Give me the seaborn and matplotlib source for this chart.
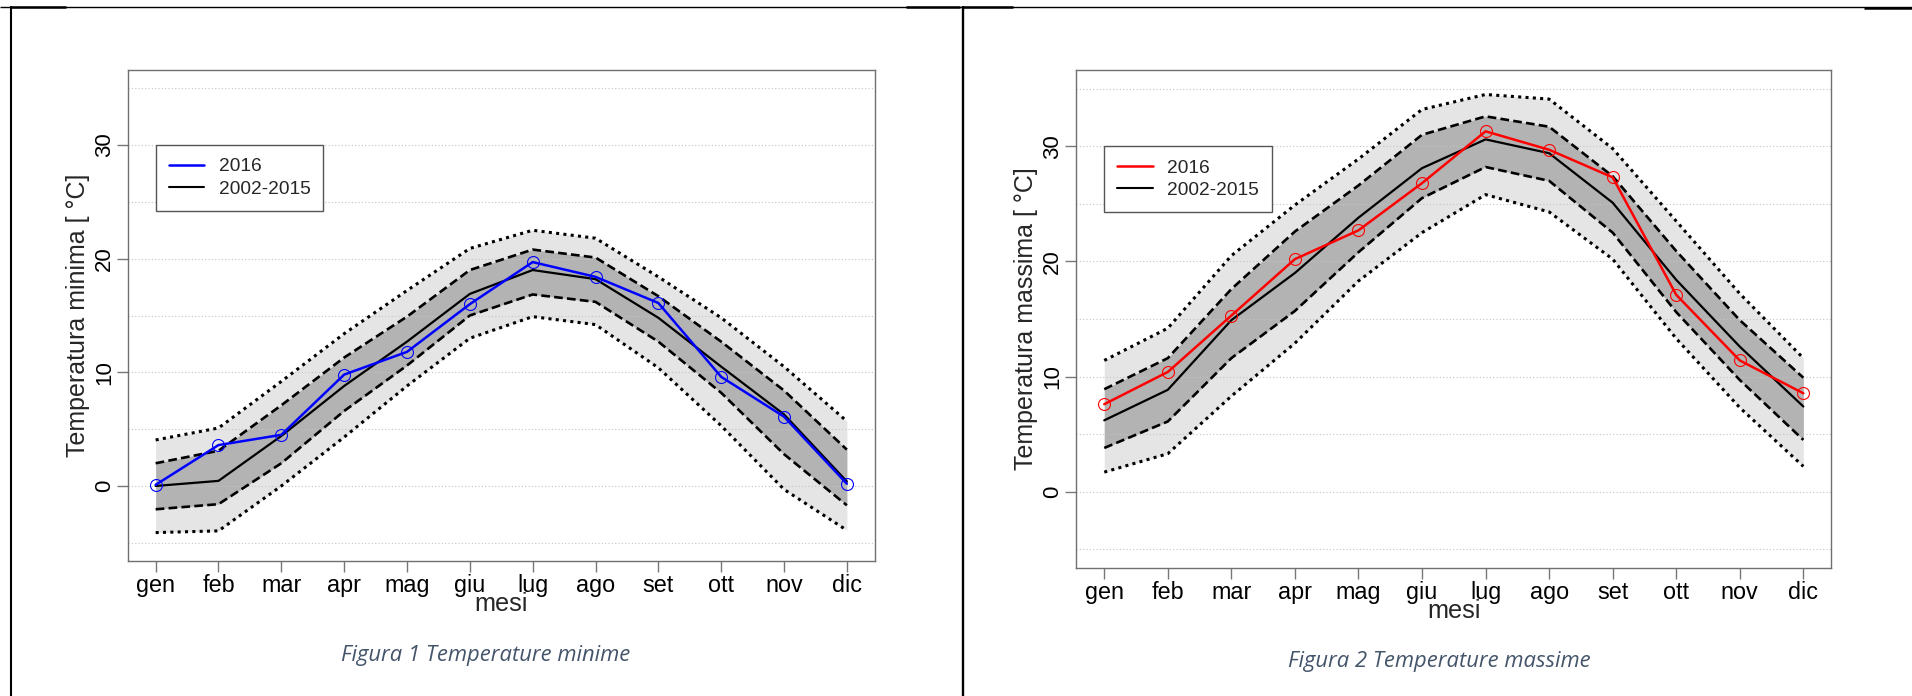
import numpy as np
import pandas as pd
import seaborn as sns
import matplotlib.pyplot as plt
from matplotlib.lines import Line2D

# mesi dell'anno
mesi = ['gen', 'feb', 'mar', 'apr', 'mag', 'giu', 'lug', 'ago', 'set', 'ott', 'nov', 'dic']

# temperature minime: 2016 e climatologia 2002-2015 (media, +-1 sd, +-2 sd)
tmin_2016 = [0.1, 3.6, 4.5, 9.8, 11.8, 16.0, 19.7, 18.4, 16.1, 9.6, 6.1, 0.2]
tmin_media = [0.0, 0.45, 4.4, 8.8, 12.7, 16.9, 19.0, 18.2, 14.8, 10.5, 6.3, 0.4]
tmin_sd_sup = [2.0, 3.1, 7.1, 11.3, 14.9, 19.0, 20.8, 20.1, 16.7, 12.7, 8.4, 3.2]
tmin_sd_inf = [-2.05, -1.6, 2.0, 6.6, 10.6, 15.0, 16.85, 16.2, 12.7, 8.2, 2.8, -1.7]
tmin_2sd_sup = [4.05, 5.1, 9.2, 13.4, 17.2, 20.9, 22.5, 21.8, 18.4, 14.8, 10.5, 5.7]
tmin_2sd_inf = [-4.1, -3.95, 0.0, 4.3, 8.8, 13.0, 14.9, 14.2, 10.4, 5.3, -0.3, -3.9]

# temperature massime
tmax_2016 = [7.6, 10.4, 15.3, 20.2, 22.7, 26.8, 31.3, 29.7, 27.3, 17.1, 11.4, 8.55]
tmax_media = [6.2, 8.85, 14.9, 19.0, 23.8, 28.1, 30.6, 29.4, 25.1, 18.4, 12.6, 7.4]
tmax_sd_sup = [8.9, 11.6, 17.6, 22.6, 26.6, 31.0, 32.6, 31.7, 27.4, 20.9, 14.9, 9.9]
tmax_sd_inf = [3.8, 6.1, 11.6, 15.7, 20.8, 25.5, 28.2, 27.0, 22.5, 15.6, 9.7, 4.5]
tmax_2sd_sup = [11.4, 14.2, 20.5, 24.9, 28.9, 33.2, 34.5, 34.1, 29.8, 23.5, 17.2, 11.6]
tmax_2sd_inf = [1.7, 3.3, 8.3, 12.9, 18.3, 22.5, 25.8, 24.3, 20.2, 13.3, 7.3, 2.2]

sns.set_theme(style='white')
plt.rcParams['font.family'] = ['Liberation Sans', 'DejaVu Sans']

W, H = 1912, 696
fig = plt.figure(figsize=(W / 100, H / 100), dpi=100)
fig.patch.set_facecolor('white')

ax1 = fig.add_axes([128 / W, 1 - 561 / H, 746.5 / W, 491 / H])
ax2 = fig.add_axes([1076.3 / W, 1 - 567.7 / H, 755 / W, 497.4 / H])


def pannello(ax, oss, media, sd_sup, sd_inf, q_sup, q_inf, colore, ylabel):
    df = pd.DataFrame({'mese': np.arange(1, 13), 'oss': oss, 'media': media,
                       'sd_sup': sd_sup, 'sd_inf': sd_inf, 'q_sup': q_sup, 'q_inf': q_inf})

    # bande grigie
    ax.fill_between(df.mese, df.q_inf, df.q_sup, color='#e5e5e5', lw=0, zorder=1)
    ax.fill_between(df.mese, df.sd_inf, df.sd_sup, color='#b3b3b3', lw=0, zorder=1.1)
    for y in range(-5, 40, 5):
        ax.axhline(y, color='#c4c4c4', lw=0.8, ls=(0, (1, 2)), zorder=1.5)

    dotted = (0, (1, 1.4))
    dashed = (0, (3.3, 1.6))
    for col, ls in [('q_sup', dotted), ('q_inf', dotted)]:
        sns.lineplot(data=df, x='mese', y=col, ax=ax, color='black', lw=2.2, linestyle=ls, zorder=2)
    for col, ls in [('sd_sup', dashed), ('sd_inf', dashed)]:
        sns.lineplot(data=df, x='mese', y=col, ax=ax, color='black', lw=1.9, linestyle=ls, zorder=2)
    sns.lineplot(data=df, x='mese', y='media', ax=ax, color='black', lw=1.6, zorder=3)
    sns.lineplot(data=df, x='mese', y='oss', ax=ax, color=colore, lw=1.8, zorder=4,
                 marker='o', markersize=8.6, markerfacecolor='none',
                 markeredgecolor=colore, markeredgewidth=0.8, alpha=1)
    ax.lines[-1].set_markeredgecolor(tuple(colore) + (0.55,))

    ax.set_xlim(0.56, 12.44)
    ax.set_ylim(-6.6, 36.6)
    ax.set_xticks(range(1, 13), mesi)
    ax.set_yticks([0, 10, 20, 30], ['0', '10', '20', '30'])
    for lab in ax.get_yticklabels():
        lab.set_rotation(90)
        lab.set_va('center')
    ax.tick_params(axis='both', bottom=True, left=True, direction='out', length=8, width=1,
                   color='#777777', labelcolor='black')
    ax.tick_params(axis='x', labelsize=16.8, pad=1.5)
    ax.tick_params(axis='y', labelsize=16, pad=1.5)
    for sp in ax.spines.values():
        sp.set_color('#707070')
        sp.set_linewidth(1.0)

    ax.set_xlabel('mesi', fontsize=18.2)
    ax.set_ylabel(ylabel, fontsize=18)
    ax.xaxis.set_label_coords(0.5, -0.063)
    ax.yaxis.set_label_coords(-0.051, 0.5)

    handles = [Line2D([], [], color=colore, lw=1.8), Line2D([], [], color='black', lw=1.5)]
    leg = ax.legend(handles, ['2016', '2002-2015'], loc='upper left', bbox_to_anchor=(1, 30),
                    bbox_transform=ax.transData, borderaxespad=0, fancybox=False, framealpha=1,
                    edgecolor='#555555', fontsize=13.8, handlelength=1.85, handletextpad=0.75,
                    borderpad=0.68, labelspacing=0.25)
    leg.get_frame().set_linewidth(1.0)
    leg.set_zorder(10)


pannello(ax1, tmin_2016, tmin_media, tmin_sd_sup, tmin_sd_inf, tmin_2sd_sup, tmin_2sd_inf,
         (0.0, 0.0, 1.0), 'Temperatura minima [ °C]')
pannello(ax2, tmax_2016, tmax_media, tmax_sd_sup, tmax_sd_inf, tmax_2sd_sup, tmax_2sd_inf,
         (1.0, 0.0, 0.0), 'Temperatura massima [ °C]')

# didascalie
cap = dict(ha='center', va='center', style='italic', color='#44546A', fontsize=15.8,
           family=['Open Sans', 'DejaVu Sans'])
fig.text(486 / W, 1 - 655 / H, 'Figura 1 Temperature minime', **cap)
fig.text(1439 / W, 1 - 661 / H, 'Figura 2 Temperature massime', **cap)


# bordi della tabella del documento
def linea(x0, y0, x1, y1, lw):
    fig.add_artist(Line2D([x0 / W, x1 / W], [1 - y0 / H, 1 - y1 / H], transform=fig.transFigure,
                          color='black', lw=lw, solid_capstyle='butt'))


linea(0, 7, W, 7, 1.0)
linea(11, 7, 66, 7, 1.8)
linea(906, 7, 960, 7, 1.8)
linea(963, 7, 1013, 7, 1.8)
linea(1864, 7.5, W, 7.5, 1.8)
linea(11, 6, 11, H, 1.5)
linea(963, 6, 963, H, 1.7)

fig.savefig('out.png', dpi=100, facecolor='white')
